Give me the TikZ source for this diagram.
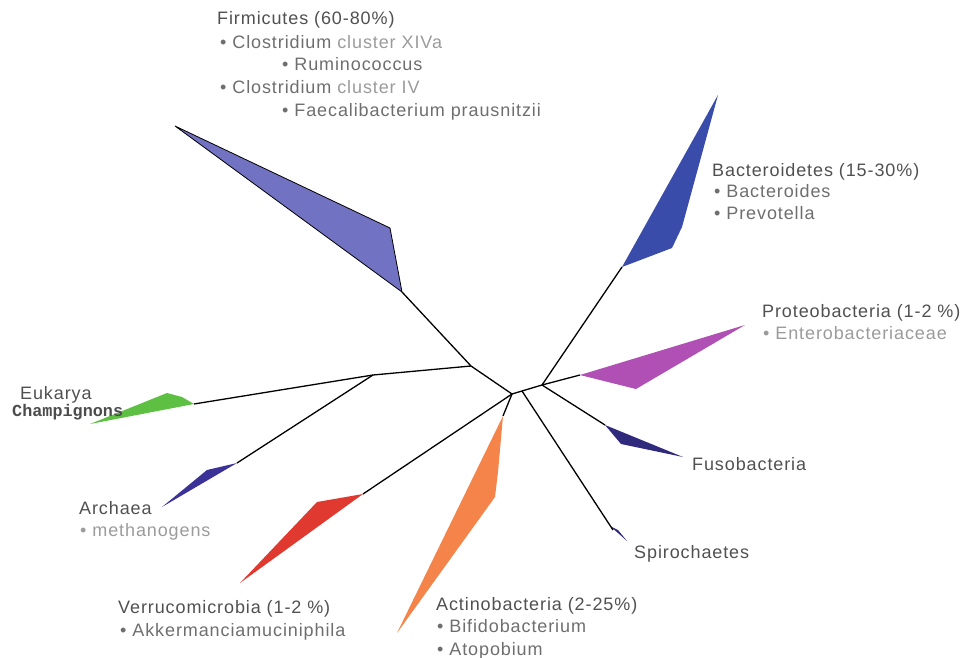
\documentclass[tikz,border=0pt]{standalone}
\usepackage{fontspec}
\setmainfont{Liberation Sans}
\newfontfamily\lblfont[LetterSpace=5]{Liberation Sans}
\newfontfamily\champfont{Liberation Mono}
\usepackage{tikz}
\usetikzlibrary{positioning}
\usepackage{xcolor}
\definecolor{firmblue}{RGB}{114,114,194}
\definecolor{bactblue}{RGB}{58,76,170}
\definecolor{protmag}{RGB}{176,80,180}
\definecolor{eukgreen}{RGB}{94,192,66}
\definecolor{archblue}{RGB}{58,50,150}
\definecolor{verrured}{RGB}{224,58,48}
\definecolor{actorange}{RGB}{244,132,74}
\definecolor{fusoblue}{RGB}{48,42,125}
\definecolor{txtdark}{RGB}{80,80,80}
\definecolor{txtmid}{RGB}{110,110,110}
\definecolor{txtlight}{RGB}{155,155,155}
\tikzset{
  branch/.style={line width=1.3pt, black},
  lbl/.style={font=\lblfont\fontsize{18}{22}\selectfont, text=txtdark, inner sep=0pt, anchor=base west},
  sublbl/.style={lbl, text=txtmid},
  faintlbl/.style={lbl, text=txtlight}
}

\begin{document}
\begin{tikzpicture}[x=1pt,y=-1pt]
    \useasboundingbox (0,0) rectangle (967,658);
    \coordinate (hub) at (512,394);
    \coordinate (firmfork) at (471,366);
    \coordinate (eukfork) at (373,375);
    \coordinate (rightfork) at (542,385);
    \coordinate (spirofork) at (522,391);
    \coordinate (firm) at (402,292);
    \coordinate (bact) at (622,267);
    \coordinate (prot) at (580,375);
    \coordinate (fuso) at (605,425);
    \coordinate (spiro) at (613,530);
    \coordinate (actino) at (503,416);
    \coordinate (verru) at (363,494);
    \coordinate (euk) at (194,404);
    \coordinate (arch) at (237,463);

    \fill[firmblue, draw=black, line width=0.8pt, line join=round] (firm) -- (390,228) -- (175,126) -- cycle;
    \fill[bactblue] (bact) -- (718,95) -- (682,227) -- (672,248) -- cycle;
    \fill[protmag] (prot) -- (745,325) -- (636,389) -- cycle;
    \fill[eukgreen] (euk) -- (182,397) -- (167,393) -- (90,424) -- cycle;
    \fill[archblue] (arch) -- (207,470) -- (162,507) -- cycle;
    \fill[verrured] (verru) -- (317,502) -- (240,583) -- cycle;
    \fill[actorange] (actino) -- (498,472) -- (495,497) -- (397,633) -- cycle;
    \fill[fusoblue] (fuso) -- (683,457) -- (621,444) -- cycle;
    \fill[fusoblue] (610,526) -- (627,541) -- (618,530) -- cycle;

    \draw[branch] (firm) -- (firmfork) -- (hub);
    \draw[branch] (firmfork) -- (eukfork) -- (euk);
    \draw[branch] (eukfork) -- (arch);
    \draw[branch] (hub) -- (rightfork) -- (prot);
    \draw[branch] (rightfork) -- (bact);
    \draw[branch] (rightfork) -- (fuso);
    \draw[branch] (spirofork) -- (spiro);
    \draw[branch] (hub) -- (actino);
    \draw[branch] (hub) -- (verru);

    \node[lbl] (firmtitle) at (217,25) {Firmicutes (60-80\%)};
    \node[sublbl] (firmclosA) at (220,48.5) {• Clostridium \textcolor{txtlight}{cluster XIVa}};
    \node[sublbl] (firmrumi) at (282,71) {• Ruminococcus};
    \node[sublbl] (firmclosB) at (220,94) {• Clostridium \textcolor{txtlight}{cluster IV}};
    \node[sublbl] (firmfaec) at (282,116.5) {• Faecalibacterium prausnitzii};

    \node[lbl] (bacttitle) at (712,176) {Bacteroidetes (15-30\%)};
    \node[sublbl] (bactbact) at (714,197.5) {• Bacteroides};
    \node[sublbl] (bactprev) at (714,219) {• Prevotella};

    \node[lbl] (prottitle) at (762,317) {Proteobacteria (1-2 \%)};
    \node[faintlbl] (protent) at (763,339) {• Enterobacteriaceae};

    \node[lbl] (fusotitle) at (692,470.5) {Fusobacteria};
    \node[lbl] (spirotitle) at (634,558) {Spirochaetes};

    \node[lbl] (actinotitle) at (436,610) {Actinobacteria (2-25\%)};
    \node[sublbl] (actinobifi) at (437,632.5) {• Bifidobacterium};
    \node[sublbl] (actinoatop) at (437,655) {• Atopobium};

    \node[lbl] (verrutitle) at (118,613) {Verrucomicrobia (1-2 \%)};
    \node[sublbl] (verruakk) at (120,636) {• Akkermanciamuciniphila};

    \node[lbl] (archtitle) at (79,514) {Archaea};
    \node[faintlbl] (archmeth) at (80,536.5) {• methanogens};

    \node[lbl] (euktitle) at (20,399) {Eukarya};
    \node[lbl, font=\champfont\bfseries\fontsize{16.8}{18}\selectfont, text=black!70] (eukchamp) at (12,416) {Champignons};
\end{tikzpicture}
\end{document}
